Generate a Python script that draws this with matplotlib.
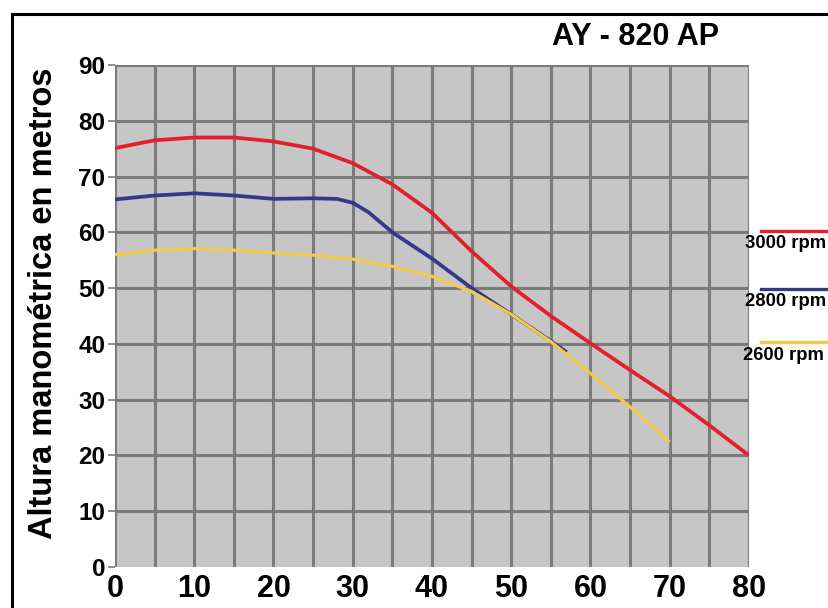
import matplotlib.pyplot as plt
from matplotlib.patches import Rectangle

# caudal (x) and altura (y)
x_3000 = [0, 5, 10, 15, 20, 25, 30, 35, 40, 45, 50, 55, 60, 65, 70, 75, 80]
h_3000 = [75.1, 76.5, 77.0, 77.0, 76.3, 75.0, 72.4, 68.6, 63.5, 56.6, 50.3, 45.0, 40.1, 35.3, 30.6, 25.4, 20.0]

x_2800 = [0, 5, 10, 15, 20, 25, 28, 30, 32, 35, 40, 45, 50, 55, 57]
h_2800 = [65.9, 66.6, 67.0, 66.6, 66.0, 66.1, 66.0, 65.3, 63.6, 60.0, 55.3, 50.0, 45.3, 40.5, 38.5]

x_2600 = [0, 5, 10, 15, 20, 25, 30, 35, 40, 45, 50, 55, 60, 65, 70]
h_2600 = [56.0, 56.8, 57.1, 56.8, 56.3, 55.9, 55.2, 53.9, 52.1, 49.4, 45.3, 40.4, 34.7, 28.7, 22.4]

x_ticks = [0, 10, 20, 30, 40, 50, 60, 70, 80]
y_ticks = [0, 10, 20, 30, 40, 50, 60, 70, 80, 90]
series_labels = ['3000 rpm', '2800 rpm', '2600 rpm']
series_colors = ['#e31e2d', '#35378a', '#f5c94c']

plt.rcParams['font.family'] = ['Liberation Sans', 'DejaVu Sans']
plt.rcParams['font.weight'] = 'bold'

W, H = 829, 608
fig = plt.figure(figsize=(W / 100, H / 100), dpi=100)
ax = fig.add_axes([115 / W, 1 - 567 / H, 634 / W, 502 / H])
ax.set_facecolor('#c6c6c6')

for gx in range(0, 81, 5):
    ax.axvline(gx, color='#7b7b7b', lw=2.2, zorder=1)
for gy in y_ticks[1:]:
    ax.axhline(gy, color='#7b7b7b', lw=2.2, zorder=1)

ax.plot(x_3000, h_3000, color=series_colors[0], lw=2.7, zorder=3,
        solid_joinstyle='round', solid_capstyle='butt')
ax.plot(x_2800, h_2800, color=series_colors[1], lw=2.7, zorder=3,
        solid_joinstyle='round', solid_capstyle='butt')
ax.plot(x_2600, h_2600, color=series_colors[2], lw=2.3, zorder=4,
        solid_joinstyle='round', solid_capstyle='butt')

ax.set_xlim(0, 80)
ax.set_ylim(0, 90)
for s in ax.spines.values():
    s.set_visible(False)

ax.set_xticks(x_ticks)
ax.set_xticklabels([str(v) for v in x_ticks], fontsize=22, fontweight='bold')
ax.set_yticks(y_ticks)
ax.set_yticklabels([str(v) for v in y_ticks], fontsize=17.5, fontweight='bold')
ax.tick_params(axis='x', length=0, pad=5)
ax.tick_params(axis='y', length=5, width=1.2, color='#7b7b7b', pad=2)

fig.text(44 / W, 1 - 303 / H, 'Altura manométrica en metros', fontsize=23.5,
         fontweight='bold', rotation=90, ha='center', va='center')

fig.text(636 / W, 1 - 37 / H, 'AY - 820 AP', fontsize=22, fontweight='bold',
         ha='center', va='center')

# legend drawn at the right edge, as in the original sheet
leg_y = [231, 289, 342]
txt_y = [243, 301, 356]
txt_x = [745, 745, 743]
for lab, col, ly, ty, tx in zip(series_labels, series_colors, leg_y, txt_y, txt_x):
    fig.add_artist(plt.Line2D([761 / W, 826 / W], [1 - ly / H, 1 - ly / H],
                              color=col, lw=2.4, transform=fig.transFigure))
    fig.text(tx / W, 1 - ty / H, lab, fontsize=13.3, fontweight='bold',
             ha='left', va='center')

# black frame around the sheet
fig.add_artist(Rectangle((12 / W, -0.1), 1.2, 1 - 14 / H + 0.1, fill=False,
                         edgecolor='black', lw=2.2, transform=fig.transFigure))

fig.savefig('out.png', dpi=100)
